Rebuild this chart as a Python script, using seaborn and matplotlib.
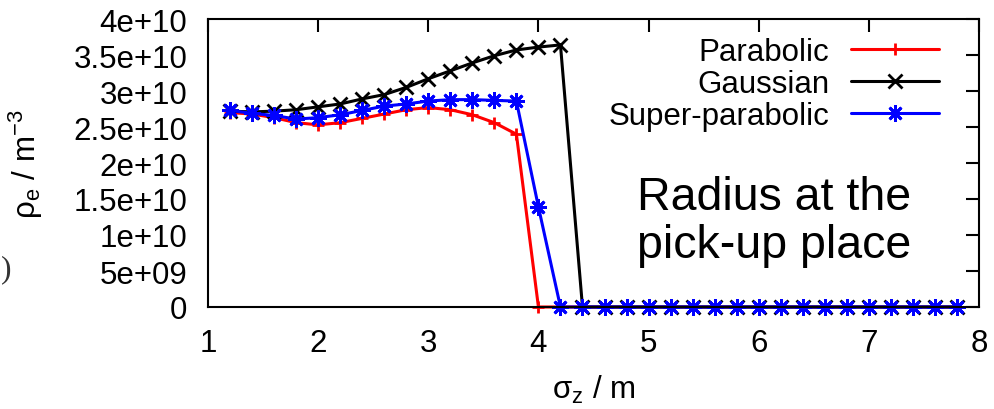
import matplotlib
matplotlib.use("Agg")
import matplotlib.pyplot as plt
import seaborn as sns

# --- DANE ---
sigma_z = [1.2, 1.4, 1.6, 1.8, 2.0, 2.2, 2.4, 2.6, 2.8, 3.0, 3.2, 3.4,
           3.6, 3.8, 4.0, 4.2, 4.4, 4.6, 4.8, 5.0, 5.2, 5.4, 5.6, 5.8,
           6.0, 6.2, 6.4, 6.6, 6.8, 7.0, 7.2, 7.4, 7.6, 7.8]

parabolic = [2.70e10, 2.68e10, 2.63e10, 2.56e10, 2.53e10, 2.56e10, 2.62e10,
             2.68e10, 2.74e10, 2.77e10, 2.74e10, 2.67e10, 2.56e10, 2.40e10,
             0, 0, 0, 0, 0, 0, 0, 0, 0, 0, 0, 0, 0, 0, 0, 0, 0, 0, 0, 0]

gaussian = [2.72e10, 2.71e10, 2.72e10, 2.74e10, 2.78e10, 2.82e10, 2.89e10,
            2.95e10, 3.05e10, 3.17e10, 3.28e10, 3.39e10, 3.49e10, 3.57e10,
            3.61e10, 3.64e10,
            0, 0, 0, 0, 0, 0, 0, 0, 0, 0, 0, 0, 0, 0, 0, 0, 0, 0]

super_parabolic = [2.73e10, 2.69e10, 2.66e10, 2.61e10, 2.63e10, 2.67e10,
                   2.73e10, 2.79e10, 2.82e10, 2.86e10, 2.88e10, 2.88e10,
                   2.87e10, 2.86e10, 1.39e10,
                   0, 0, 0, 0, 0, 0, 0, 0, 0, 0, 0, 0, 0, 0, 0, 0, 0, 0, 0]

series_names = ["Parabolic", "Gaussian", "Super-parabolic"]
x_ticks = [1, 2, 3, 4, 5, 6, 7, 8]
y_ticks = [0, 5e9, 1e10, 1.5e10, 2e10, 2.5e10, 3e10, 3.5e10, 4e10]
y_tick_labels = ["0", "5e+09", "1e+10", "1.5e+10", "2e+10", "2.5e+10",
                 "3e+10", "3.5e+10", "4e+10"]

# --- STYL ---
sns.set_theme(style="white")
plt.rcParams.update({
    "font.family": ["Liberation Sans", "DejaVu Sans"],
    "mathtext.fontset": "custom",
    "mathtext.rm": "Liberation Sans",
    "mathtext.it": "Liberation Sans",
    "mathtext.default": "regular",
    "axes.edgecolor": "black",
    "axes.linewidth": 1.5,
    "text.color": "black",
    "axes.labelcolor": "black",
    "xtick.color": "black",
    "ytick.color": "black",
})

FS = 22.5

fig = plt.figure(figsize=(9.95, 4.10), dpi=100)
ax = fig.add_axes([208 / 995, 102 / 410, 771 / 995, 288 / 410])

styles = [
    (parabolic, "#ff0000", "+", 9),
    (gaussian, "#000000", "x", 10),
    (super_parabolic, "#0000ff", (8, 2, 0), 12),
]
for (vals, color, marker, ms), name in zip(styles, series_names):
    sns.lineplot(x=sigma_z, y=vals, ax=ax, color=color, marker=marker,
                 markersize=ms, markeredgewidth=2.0, markeredgecolor=color,
                 linewidth=2.2, label=name, estimator=None, clip_on=False)

ax.set_xlim(1, 8)
ax.set_ylim(0, 4e10)
ax.set_xticks(x_ticks)
ax.set_xticklabels([str(t) for t in x_ticks])
ax.set_yticks(y_ticks)
ax.set_yticklabels(y_tick_labels)
ax.tick_params(direction="in", top=True, right=True, length=9.5, width=1.5,
               labelsize=FS, pad=15, colors="black")
for sp in ax.spines.values():
    sp.set_zorder(5)

ax.set_xlabel(r"$\sigma_z$ / m", fontsize=FS)
ax.xaxis.set_label_coords(0.5, -0.285)
ax.xaxis.label.set_verticalalignment("center")
ax.set_ylabel(r"$\rho_e$ / m$^{-3}$", fontsize=FS)
ax.yaxis.set_label_coords(-0.236, 0.5)
ax.yaxis.label.set_verticalalignment("center")

leg = ax.legend(loc="upper right", bbox_to_anchor=(0.948, 0.936),
                frameon=False, markerfirst=False, fontsize=FS,
                handlelength=2.8, handletextpad=0.7, labelspacing=0.05,
                borderpad=0, borderaxespad=0, numpoints=1)
for t in leg.get_texts():
    t.set_horizontalalignment("right")
    t.set_color("black")

ax.text(0.734, 0.300, "Radius at the\npick-up place", transform=ax.transAxes,
        fontsize=33.5, ha="center", va="center", multialignment="center",
        linespacing=1.12, color="black")

# resztka sąsiedniego panelu przy lewej krawędzi
fig.text(0.001, 1 - 270 / 410, ")", fontsize=FS, family="Liberation Serif",
         ha="left", va="center", color="#333333")

fig.savefig("out.png", dpi=100)
